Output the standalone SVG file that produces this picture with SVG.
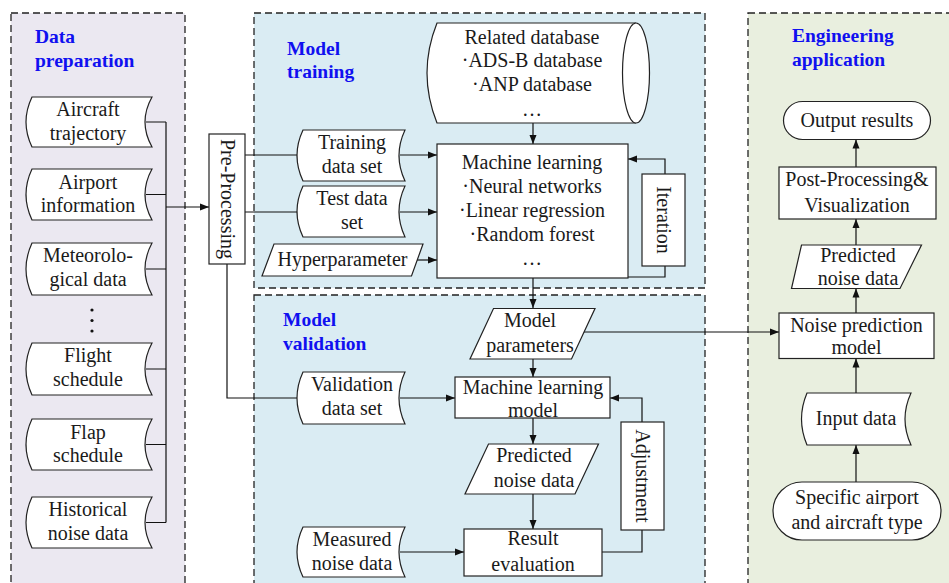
<svg xmlns="http://www.w3.org/2000/svg" width="949" height="583" viewBox="0 0 949 583">
<defs>
<marker id="arr" markerUnits="userSpaceOnUse" markerWidth="9" markerHeight="8" refX="9" refY="4" orient="auto">
<path d="M0,0.5 L9,4 L0,7.5 z" fill="#111"/>
</marker>
<style>
.panel{stroke:#222;stroke-width:1.3;stroke-dasharray:7 4}
.nd{fill:#fff;stroke:#222;stroke-width:1.2}
.t{font-family:"Liberation Serif","Times New Roman",serif;font-size:20px;fill:#1a1a1a;text-anchor:middle}
.ttl{font-family:"Liberation Serif","Times New Roman",serif;font-size:19.5px;font-weight:bold;fill:#1010f0}
.c{fill:none;stroke:#111;stroke-width:1.2}
.ca{fill:none;stroke:#111;stroke-width:1.2;marker-end:url(#arr)}
</style>
</defs>
<g id="panels">
<rect class="panel" x="11" y="13" width="174" height="600" fill="#EBE8F1"/>
<rect class="panel" x="254" y="13" width="451" height="275" fill="#DAECF3"/>
<rect class="panel" x="254" y="295" width="451" height="300" fill="#DAECF3"/>
<rect class="panel" x="748" y="13" width="220" height="600" fill="#E9EFDF"/>
<text class="ttl" x="35" y="43">Data</text>
<text class="ttl" x="35" y="67">preparation</text>
<text class="ttl" x="287" y="55">Model</text>
<text class="ttl" x="287" y="78">training</text>
<text class="ttl" x="283" y="326">Model</text>
<text class="ttl" x="283" y="350">validation</text>
<text class="ttl" x="792" y="42">Engineering</text>
<text class="ttl" x="792" y="66">application</text>
</g>
<g id="connectors">
<path class="c" d="M146,122 H166 M146,194.5 H166 M146,269 H166 M146,369 H166 M146,444.5 H166 M146,522.5 H166 M166,122 V522.5"/>
<path class="ca" d="M166,207 H209"/>
<path class="c" d="M245,155 H297"/>
<path class="ca" d="M400,155 H437"/>
<path class="c" d="M245,212 H297"/>
<path class="ca" d="M400,212 H437"/>
<path class="ca" d="M417,260 H437"/>
<path class="ca" d="M533,123 V144"/>
<path class="ca" d="M665,174 V159 H628"/>
<path class="c" d="M665,266 V277 H628"/>
<path class="ca" d="M533,278 V308"/>
<path class="ca" d="M584,332 H779"/>
<path class="ca" d="M533,359 V377"/>
<path class="c" d="M227,264 V398 H297"/>
<path class="ca" d="M400,398 H455"/>
<path class="ca" d="M533,418 V444"/>
<path class="ca" d="M533,494 V529"/>
<path class="ca" d="M400,552 H464"/>
<path class="ca" d="M642,422 V398 H610"/>
<path class="c" d="M602,552 H642 V530"/>
<path class="ca" d="M856,167 V139.5"/>
<path class="ca" d="M856,245 V219"/>
<path class="ca" d="M856,313 V288.5"/>
<path class="ca" d="M856,393 V358.5"/>
<path class="ca" d="M856,482 V445"/>
</g>
<g id="aircraft-trajectory">
<path class="nd" d="M32,97 H152 Q138,122 152,147 H32 Q20,122 32,97 Z"/>
<text class="t" x="88" y="116">Aircraft</text>
<text class="t" x="88" y="139.5">trajectory</text>
</g>
<g id="airport-information">
<path class="nd" d="M32,169 H152 Q138,194.5 152,220 H32 Q20,194.5 32,169 Z"/>
<text class="t" x="88" y="188.5">Airport</text>
<text class="t" x="88" y="212">information</text>
</g>
<g id="meteorological-data">
<path class="nd" d="M32,243 H152 Q138,269 152,295 H32 Q20,269 32,243 Z"/>
<text class="t" x="88" y="262">Meteorolo-</text>
<text class="t" x="88" y="285.5">gical data</text>
</g>
<g id="ellipsis">
<circle cx="92" cy="310" r="1.6" fill="#111"/>
<circle cx="92" cy="320.5" r="1.6" fill="#111"/>
<circle cx="92" cy="331" r="1.6" fill="#111"/>
</g>
<g id="flight-schedule">
<path class="nd" d="M32,343 H152 Q138,369 152,395 H32 Q20,369 32,343 Z"/>
<text class="t" x="88" y="362">Flight</text>
<text class="t" x="88" y="386">schedule</text>
</g>
<g id="flap-schedule">
<path class="nd" d="M32,419 H152 Q138,444.5 152,470 H32 Q20,444.5 32,419 Z"/>
<text class="t" x="88" y="438.5">Flap</text>
<text class="t" x="88" y="462">schedule</text>
</g>
<g id="historical-noise-data">
<path class="nd" d="M32,497 H152 Q138,522.5 152,548 H32 Q20,522.5 32,497 Z"/>
<text class="t" x="88" y="515.5">Historical</text>
<text class="t" x="88" y="539.5">noise data</text>
</g>
<g id="pre-processing">
<rect class="nd" x="209" y="134" width="36" height="130"/>
<text class="t" x="227" y="205.5" transform="rotate(90 227 199)">Pre-Processing</text>
</g>
<g id="related-database">
<path class="nd" d="M437,23 H636 A13.5,50 0 0 1 636,123 H437 Q417,73 437,23 Z"/>
<path class="nd" d="M636,23 A13.5,50 0 0 0 636,123" fill="none"/>
<text class="t" x="532" y="43.5">Related database</text>
<text class="t" x="532" y="67">·ADS-B database</text>
<text class="t" x="532" y="90.5">·ANP database</text>
<text class="t" x="532" y="116">…</text>
</g>
<g id="training-data-set">
<path class="nd" d="M303,130 H405 Q393,155.5 405,181 H303 Q291,155.5 303,130 Z"/>
<text class="t" x="352" y="149">Training</text>
<text class="t" x="352" y="173">data set</text>
</g>
<g id="test-data-set">
<path class="nd" d="M303,186 H405 Q393,211.5 405,237 H303 Q291,211.5 303,186 Z"/>
<text class="t" x="352" y="204.5">Test data</text>
<text class="t" x="352" y="228.5">set</text>
</g>
<g id="hyperparameter">
<path class="nd" d="M274,244 H423 L411.5,276 H262 Z"/>
<text class="t" x="342.5" y="266">Hyperparameter</text>
</g>
<g id="machine-learning">
<rect class="nd" x="437" y="144" width="191" height="134"/>
<text class="t" x="532" y="168.5">Machine learning</text>
<text class="t" x="532" y="192.5">·Neural networks</text>
<text class="t" x="532" y="216.5">·Linear regression</text>
<text class="t" x="532" y="240.5">·Random forest</text>
<text class="t" x="532" y="265">…</text>
</g>
<g id="iteration">
<rect class="nd" x="642" y="174" width="43" height="92"/>
<text class="t" x="663.5" y="226.5" transform="rotate(90 663.5 220)">Iteration</text>
</g>
<g id="model-parameters">
<path class="nd" d="M493.5,308.5 H595 L571.5,359 H470 Z"/>
<text class="t" x="530" y="327">Model</text>
<text class="t" x="530" y="352">parameters</text>
</g>
<g id="validation-data-set">
<path class="nd" d="M303,372 H405 Q393,398 405,424 H303 Q291,398 303,372 Z"/>
<text class="t" x="352" y="391">Validation</text>
<text class="t" x="352" y="414.5">data set</text>
</g>
<g id="machine-learning-model">
<rect class="nd" x="455" y="377" width="155" height="41"/>
<text class="t" x="533" y="393.5">Machine learning</text>
<text class="t" x="533" y="417">model</text>
</g>
<g id="predicted-noise-data-validation">
<path class="nd" d="M488.5,444 H598.5 L575,494 H465 Z"/>
<text class="t" x="534" y="462">Predicted</text>
<text class="t" x="534" y="487">noise data</text>
</g>
<g id="adjustment">
<rect class="nd" x="621" y="422" width="43" height="108"/>
<text class="t" x="642.5" y="482.5" transform="rotate(90 642.5 476)">Adjustment</text>
</g>
<g id="measured-noise-data">
<path class="nd" d="M303,527 H405 Q393,552 405,577 H303 Q291,552 303,527 Z"/>
<text class="t" x="352" y="546">Measured</text>
<text class="t" x="352" y="569.5">noise data</text>
</g>
<g id="result-evaluation">
<rect class="nd" x="464" y="529" width="138" height="47"/>
<text class="t" x="533" y="545">Result</text>
<text class="t" x="533" y="571">evaluation</text>
</g>
<g id="output-results">
<rect class="nd" x="783.5" y="101.5" width="147" height="38" rx="19" ry="19"/>
<text class="t" x="857" y="126.5">Output results</text>
</g>
<g id="post-processing">
<rect class="nd" x="779" y="167" width="157" height="52"/>
<text class="t" x="857" y="185.5">Post-Processing&amp;</text>
<text class="t" x="857" y="211.5">Visualization</text>
</g>
<g id="predicted-noise-data-application">
<path class="nd" d="M801.5,245 H921.5 L900,288.5 H791.5 Z"/>
<text class="t" x="858" y="262">Predicted</text>
<text class="t" x="858" y="285">noise data</text>
</g>
<g id="noise-prediction-model">
<rect class="nd" x="779" y="313" width="155" height="45.5"/>
<text class="t" x="856.5" y="331.5">Noise prediction</text>
<text class="t" x="856.5" y="353.5">model</text>
</g>
<g id="input-data">
<path class="nd" d="M807,393 H911 Q899,419 911,445 H807 Q796,419 807,393 Z"/>
<text class="t" x="856" y="424.5">Input data</text>
</g>
<g id="specific-airport">
<rect class="nd" x="773" y="482" width="168" height="58" rx="29" ry="29"/>
<text class="t" x="857" y="503.5">Specific airport</text>
<text class="t" x="857" y="529">and aircraft type</text>
</g>
</svg>
